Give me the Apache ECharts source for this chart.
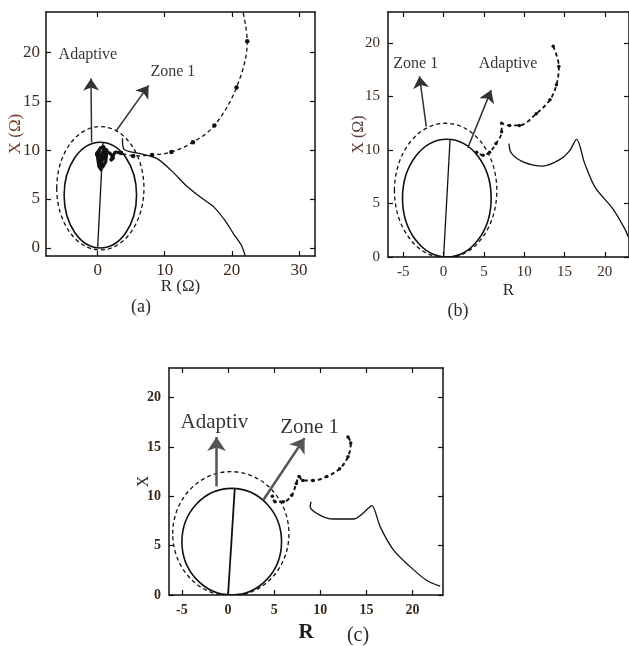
<!DOCTYPE html>
<html>
<head>
<meta charset="utf-8">
<script src="https://cdn.jsdelivr.net/npm/echarts@6/dist/echarts.min.js"></script>
<style>
  html, body { margin: 0; padding: 0; background: #fff; }
  #chart { width: 629px; height: 646px; }
</style>
</head>
<body>
<div id="chart"></div>
<script>
// ---- panel (a) ----
const aTicksR = [0, 10, 20, 30];
const aTicksX = [0, 5, 10, 15, 20];
const aMho = [[0.4, 5.4, 5.4, 5.4]];          // centre R, centre X, radius R, radius X
const aZone = [[0.4, 6.1, 6.5, 6.3]];
const aLine = [[0, 0], [0.8, 10.8]];
const aTrajDash = [[21.7, 24], [22.3, 21.1], [20.7, 16.4], [17.4, 12.5], [14.2, 10.8], [11, 9.8], [8.1, 9.5], [5.3, 9.4], [3.5, 9.7]];
const aBlob = [[0.6, 7.9], [0.2, 8.3], [0, 9.2], [0.3, 10.1], [0.9, 10.4], [1.1, 9.6], [0.5, 8.6], [-0.2, 9.6], [0.5, 10.3],
  [1.4, 10.0], [1.2, 8.8], [0.7, 8.2], [0.3, 9], [0.8, 9.9], [1.8, 9.7], [2.4, 9.2], [1.9, 8.9], [2.6, 9.8], [3.5, 9.7]];
const aTrajSolid = [[3.7, 11.2], [3.9, 10.1], [6.5, 9.6], [8.8, 9.15], [11, 7.9], [13.3, 6.3], [15.5, 5.1], [17.3, 4.2],
  [19, 2.8], [20.2, 1.5], [21.4, 0.3], [22, -0.8]];
const aArrows = [[[2.8, 12.0], [7.6, 16.6]], [[-0.9, 10.8], [-1.0, 17.3]]];
const aLabels = [['Adaptive', -5.9, 19.7], ['Zone 1', 7.8, 18]];

// ---- panel (b) ----
const bTicksR = [-5, 0, 5, 10, 15, 20];
const bTicksX = [0, 5, 10, 15, 20];
const bMho = [[0.4, 5.5, 5.5, 5.5]];
const bZone = [[0.25, 6.2, 6.35, 6.3]];
const bLine = [[0, 0], [0.8, 11]];
const bTrajDash = [[13.6, 19.7], [14.3, 17.8], [14.0, 16.1], [13.2, 14.7], [11.5, 13.4], [9.4, 12.3], [8.2, 12.3], [7.2, 12.5],
  [7.2, 11.7], [6.5, 10.6], [5.7, 9.8], [4.9, 9.5], [4.1, 9.8]];
const bTrajSolid = [[8.1, 10.6], [8.4, 9.7], [9.85, 8.9], [12.3, 8.5], [14.4, 9.1], [15.6, 9.9], [16.5, 11.0], [17.5, 8.75],
  [18.8, 6.5], [21.0, 4.5], [22.5, 2.6], [22.9, 1.9]];
const bArrows = [[[-2.15, 12.2], [-3.0, 16.9]], [[3.0, 10.2], [5.9, 15.6]]];
const bLabels = [['Zone 1', -6.3, 18.1], ['Adaptive', 4.3, 18.1]];

// ---- panel (c) ----
const cTicksR = [-5, 0, 5, 10, 15, 20];
const cTicksX = [0, 5, 10, 15, 20];
const cMho = [[0.4, 5.4, 5.4, 5.4]];
const cZone = [[0.3, 6.2, 6.3, 6.3]];
const cLine = [[0, 0], [0.73, 10.8]];
const cTrajDash = [[13.0, 16.0], [13.3, 15.4], [13.0, 14.0], [12.1, 12.8], [10.7, 12.0], [9.2, 11.6], [8.1, 11.6], [7.7, 12.0],
  [7.4, 11.3], [6.9, 10.1], [6.0, 9.45], [5.1, 9.45], [4.8, 10.0]];
const cTrajSolid = [[9.0, 9.45], [8.9, 8.95], [9.95, 8.1], [11.4, 7.7], [13.6, 7.7], [15.4, 8.95], [15.6, 9.05], [16.5, 6.9],
  [17.9, 4.6], [19.7, 2.9], [21.5, 1.5], [23.0, 0.9]];
const cArrows = [[[-1.25, 11.0], [-1.25, 16.0]], [[3.8, 9.6], [8.3, 15.9]]];
const cLabels = [['Adaptiv', -5.2, 17.5], ['Zone 1', 5.6, 17.0]];

const SERIF = "'Liberation Serif', 'Times New Roman', serif";
const INK = '#111';

// each grid owns two x and two y axes (main + mirrored frame side)
function axes(dir, gi, min, max, ticks, label, name, nameGap, nameStyle) {
  const base = {
    gridIndex: gi, type: 'value', min: min, max: max,
    splitLine: { show: false },
    axisLine: { onZero: false, lineStyle: { color: INK, width: 1.5 } },
    axisTick: { inside: true, length: 5, customValues: ticks, lineStyle: { color: INK, width: 1.2 } }
  };
  const main = Object.assign({}, base, {
    position: dir === 'x' ? 'bottom' : 'left',
    axisLabel: Object.assign({ customValues: ticks, fontFamily: SERIF }, label),
    name: name, nameLocation: 'middle', nameGap: nameGap, nameMoveOverlap: false,
    nameTextStyle: Object.assign({ fontFamily: SERIF }, nameStyle)
  });
  if (dir === 'y') main.nameRotate = 90;
  const mirror = Object.assign({}, base, {
    position: dir === 'x' ? 'top' : 'right',
    axisLabel: { show: false }
  });
  return [main, mirror];
}

function ellipse(data, gi, dashed) {
  return {
    type: 'custom', xAxisIndex: gi * 2, yAxisIndex: gi * 2, data: data, silent: true, clip: true,
    renderItem: function (params, api) {
      const c = api.coord([api.value(0), api.value(1)]);
      const s = api.size([api.value(2), api.value(3)]);
      return {
        type: 'ellipse',
        shape: { cx: c[0], cy: c[1], rx: s[0], ry: s[1] },
        style: { fill: 'none', stroke: INK, lineWidth: dashed ? 1.3 : 1.6, lineDash: dashed ? [4, 3] : null }
      };
    }
  };
}

function line(data, gi, extra) {
  return Object.assign({
    type: 'line', xAxisIndex: gi * 2, yAxisIndex: gi * 2, data: data, showSymbol: false, silent: true,
    lineStyle: { color: INK, width: 1.3 }, itemStyle: { color: INK }
  }, extra || {});
}

function arrows(data, gi, color, width, head) {
  return line([], gi, {
    markLine: {
      silent: true, animation: false, symbol: ['none', 'arrow'], symbolSize: head,
      label: { show: false },
      lineStyle: { color: color, width: width, type: 'solid' },
      data: data.map(a => [{ coord: a[0] }, { coord: a[1] }])
    }
  });
}

function labels(data, gi, size) {
  return {
    type: 'scatter', xAxisIndex: gi * 2, yAxisIndex: gi * 2, symbolSize: 1, silent: true,
    itemStyle: { color: 'rgba(0,0,0,0)' },
    data: data.map(l => ({ name: l[0], value: [l[1], l[2]] })),
    label: { show: true, position: 'right', distance: 0, formatter: '{b}', fontFamily: SERIF, fontSize: size, color: '#000' }
  };
}

function dotted(data, gi, size, width, skipFirst) {
  return line(data, gi, {
    smooth: 0.35, showSymbol: true, showAllSymbol: true, symbol: 'circle',
    symbolSize: (v, p) => (skipFirst && p.dataIndex === 0 ? 0 : size),
    lineStyle: { color: INK, width: width, type: [4, 3] }
  });
}

const chart = echarts.init(document.getElementById('chart'));
const tickA = { fontSize: 17, margin: 6, color: '#3d2a1c' };
const tickB = { fontSize: 15, margin: 8, color: '#3d2a1c' };
const tickC = { fontSize: 14, margin: 8, color: '#3a2818', fontWeight: 'bold' };

chart.setOption({
  animation: false,
  grid: [
    { left: 46, top: 12, width: 269, height: 244 },
    { left: 388, top: 12, width: 241, height: 245 },
    { left: 169, top: 368, width: 274, height: 227 }
  ],
  xAxis: [].concat(
    axes('x', 0, -7.7, 32.4, aTicksR, tickA, 'R (\u03A9)', 22, { fontSize: 17, color: '#2a2a2a' }),
    axes('x', 1, -6.9, 23.0, bTicksR, tickB, 'R', 25, { fontSize: 17, color: '#2a2a2a' }),
    axes('x', 2, -6.4, 23.3, cTicksR, tickC, 'R', 27, { fontSize: 21, color: '#1c1c1c', fontWeight: 'bold' })
  ),
  yAxis: [].concat(
    axes('y', 0, -0.82, 24.1, aTicksX, tickA, 'X (\u03A9)', 22, { fontSize: 17, color: '#6e3a2a' }),
    axes('y', 1, 0, 22.9, bTicksX, tickB, 'X (\u03A9)', 21, { fontSize: 16, color: '#5a3a3a' }),
    axes('y', 2, 0, 23.0, cTicksX, tickC, 'X', 17, { fontSize: 16, color: '#3a2818' })
  ),
  series: [
    ellipse(aMho, 0, false), ellipse(aZone, 0, true),
    line(aLine, 0), dotted(aTrajDash, 0, 4.5, 1.3, true),
    line(aBlob, 0, { lineStyle: { color: INK, width: 3.2 } }),
    line(aTrajSolid, 0, { smooth: 0.3 }),
    arrows(aArrows, 0, '#333', 1.5, 12), labels(aLabels, 0, 16),

    ellipse(bMho, 1, false), ellipse(bZone, 1, true),
    line(bLine, 1), dotted(bTrajDash, 1, 3.5, 1.8, false),
    line(bTrajSolid, 1, { smooth: 0.3 }),
    arrows(bArrows, 1, '#333', 1.5, 12), labels(bLabels, 1, 16),

    ellipse(cMho, 2, false), ellipse(cZone, 2, true),
    line(cLine, 2, { lineStyle: { color: INK, width: 1.8 } }), dotted(cTrajDash, 2, 3.5, 2, false),
    line(cTrajSolid, 2, { smooth: 0.3 }),
    arrows(cArrows, 2, '#555', 2.5, 14), labels(cLabels, 2, 21)
  ],
  graphic: [
    { type: 'text', x: 141, y: 307, style: { text: '(a)', font: '18px ' + SERIF, fill: '#2a2a2a', align: 'center', verticalAlign: 'middle', textAlign: 'center', textVerticalAlign: 'middle' } },
    { type: 'text', x: 458, y: 311, style: { text: '(b)', font: '18px ' + SERIF, fill: '#2a2a2a', align: 'center', verticalAlign: 'middle', textAlign: 'center', textVerticalAlign: 'middle' } },
    { type: 'text', x: 358, y: 636, style: { text: '(c)', font: '20px ' + SERIF, fill: '#2a2a2a', align: 'center', verticalAlign: 'middle', textAlign: 'center', textVerticalAlign: 'middle' } }
  ]
});
</script>
</body>
</html>
